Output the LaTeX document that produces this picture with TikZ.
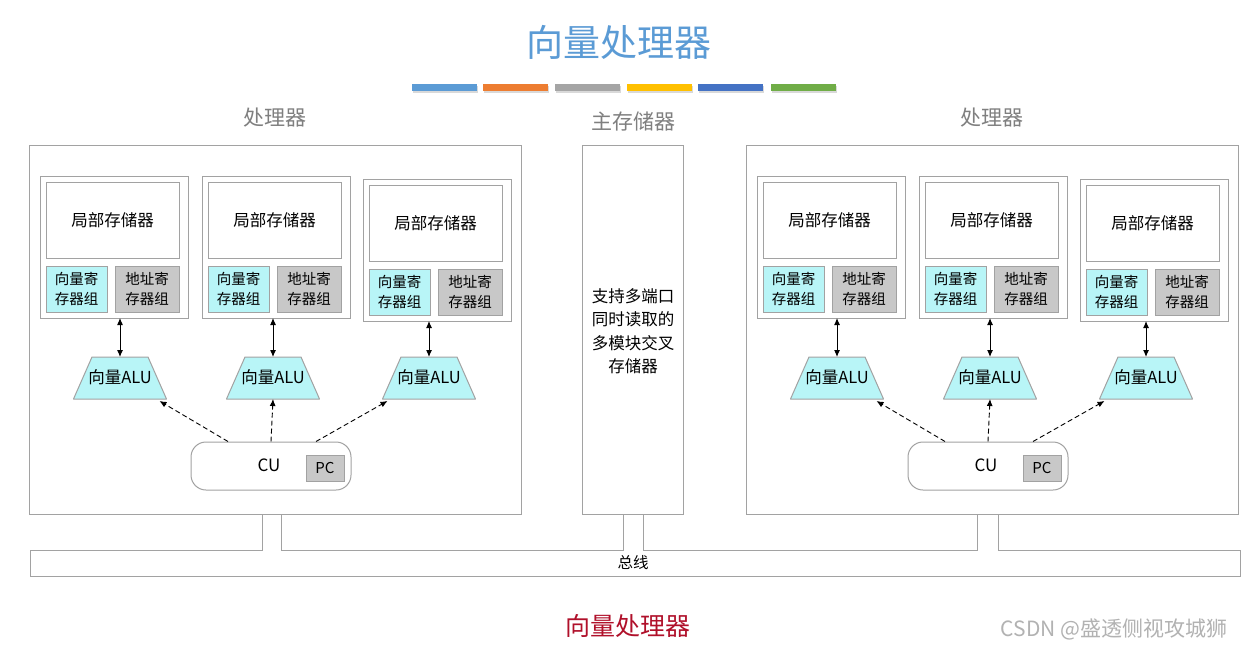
\documentclass[tikz,border=0pt]{standalone}
\usepackage{fontspec}
\setmainfont{Noto Sans CJK SC}
\usetikzlibrary{arrows.meta,shapes.geometric,calc}
\definecolor{lineg}{HTML}{A2A2A2}
\definecolor{cyanf}{HTML}{B8F5F7}
\definecolor{grayf}{HTML}{C8C8C8}
\definecolor{titleblue}{HTML}{5B9BD5}
\definecolor{c1}{HTML}{5B9BD5}
\definecolor{c2}{HTML}{ED7D31}
\definecolor{c3}{HTML}{A5A5A5}
\definecolor{c4}{HTML}{FFC000}
\definecolor{c5}{HTML}{4472C4}
\definecolor{c6}{HTML}{70AD47}
\definecolor{labgray}{HTML}{7F7F7F}
\definecolor{darkred}{HTML}{B0102A}
\begin{document}
\begin{tikzpicture}[x=1pt,y=-1pt,
  rect/.style={draw=lineg,line width=1pt,inner sep=0pt,outer sep=0pt,anchor=north west},
  txt/.style={font=\fontsize{16.5}{20}\selectfont},
  regtxt/.style={font=\fontsize{14.5}{20}\selectfont,align=center},
  alubox/.style={minimum width=93pt,minimum height=42pt,inner sep=0pt,outer sep=0pt},
  alutxt/.style={font=\fontsize{16.5}{20}\selectfont,inner sep=0pt},
  dbl/.style={{Latex[length=7pt,width=6pt]}-{Latex[length=7pt,width=6pt]},line width=1pt},
  dsh/.style={-{Latex[length=7pt,width=6pt]},line width=0.9pt,dash pattern=on 5pt off 3pt},
  bar/.style={minimum width=65pt,minimum height=7pt,inner sep=0pt},
  grouplab/.style={text=labgray,font=\fontsize{21}{24}\selectfont}]
\useasboundingbox (0,0) rectangle (1245,648);
\fill[white] (0,0) rectangle (1245,648);
% title
\node[text=titleblue,font=\fontsize{37}{40}\selectfont] (title) at (619,42) {向量处理器};
\foreach \c/\x [count=\k] in {c1/444,c2/515,c3/587,c4/659,c5/730,c6/803} {
  \node[bar,fill=black!15] at (\x+1,89) {};
  \node[bar,fill=\c] (bar\k) at (\x,87) {};
}
% group labels
\node[grouplab] (lproclab) at (275,118) {处理器};
\node[grouplab] (memlab) at (633,121) {主存储器};
\node[grouplab] (rproclab) at (992,118) {处理器};
% memory
\node[rect,minimum width=101pt,minimum height=369pt] (mem) at (582,145) {};
\node[font=\fontsize{16.5}{23.5}\selectfont,align=center] (memtxt) at (633,331) {支持多端口\\同时读取的\\多模块交叉\\存储器};
% processors
\foreach \p/\dx in {L/0,R/717} {
\begin{scope}[xshift=\dx pt]
  \node[rect,minimum width=492pt,minimum height=369pt] (\p proc) at (29,145) {};
  \foreach \i/\L/\dy/\ax in {1/40/0/120,2/202/0/273,3/363/3/429} {
    \node[rect,minimum width=148pt,minimum height=142pt] (\p pe\i) at (\L,{176+\dy}) {};
    \node[rect,minimum width=133pt,minimum height=76pt,txt] (\p lm\i) at ({\L+6},{182+\dy}) {局部存储器};
    \node[rect,minimum width=61pt,minimum height=46pt,fill=cyanf,regtxt] (\p vr\i) at ({\L+6},{266+\dy}) {向量寄\\存器组};
    \node[rect,minimum width=64pt,minimum height=46pt,fill=grayf,regtxt] (\p ar\i) at ({\L+75},{266+\dy}) {地址寄\\存器组};
    \node[alubox] (\p alu\i) at (\ax,378) {};
    \draw[draw=lineg,line width=1pt,fill=cyanf,line join=round] (\p alu\i.north west) ++(18.5pt,0pt) -- ([xshift=-18.5pt]\p alu\i.north east) -- (\p alu\i.south east) -- (\p alu\i.south west) -- cycle;
    \node[alutxt] (\p alutxt\i) at ([yshift=1pt]\p alu\i.center) {向量ALU};
    \draw[dbl] (\p alu\i.north) -- (\p alu\i.north |- \p pe\i.south);
  }
  \node[draw=lineg,line width=1pt,rounded corners=15pt,minimum width=160pt,minimum height=48pt,inner sep=0pt] (\p cu) at (271,466) {};
  \node[font=\fontsize{17}{20}\selectfont] (\p cutxt) at (269,465) {CU};
  \node[rect,minimum width=38pt,minimum height=26pt,fill=grayf,font=\fontsize{15}{16}\selectfont] (\p pc) at (306,455) {PC};
  \draw[dsh] ([xshift=-43pt]\p cu.north) -- ([xshift=-7pt,yshift=-2pt]\p alu1.south east);
  \draw[dsh] (\p cu.north) -- (\p alu2.south);
  \draw[dsh] ([xshift=45pt]\p cu.north) -- ([xshift=5pt,yshift=-2pt]\p alu3.south west);
\end{scope}
}
% bus
\draw[lineg,line width=1pt] (262,514) -- (262,550) -- (30,550) -- (30,576) -- (1240,576) -- (1240,550) -- (998,550) -- (998,514);
\draw[lineg,line width=1pt] (281,514) -- (281,550) -- (623,550) -- (623,514);
\draw[lineg,line width=1pt] (643,514) -- (643,550) -- (977,550) -- (977,514);
\node[font=\fontsize{15.5}{18}\selectfont] (bus) at (633,563) {总线};
% bottom caption
\node[text=darkred,font=\fontsize{25}{28}\selectfont] (caption) at (628,626) {向量处理器};
\node[text=black!30,font=\fontsize{21}{24}\selectfont] (csdn) at (1114,629) {CSDN @盛透侧视攻城狮};
\end{tikzpicture}
\end{document}
